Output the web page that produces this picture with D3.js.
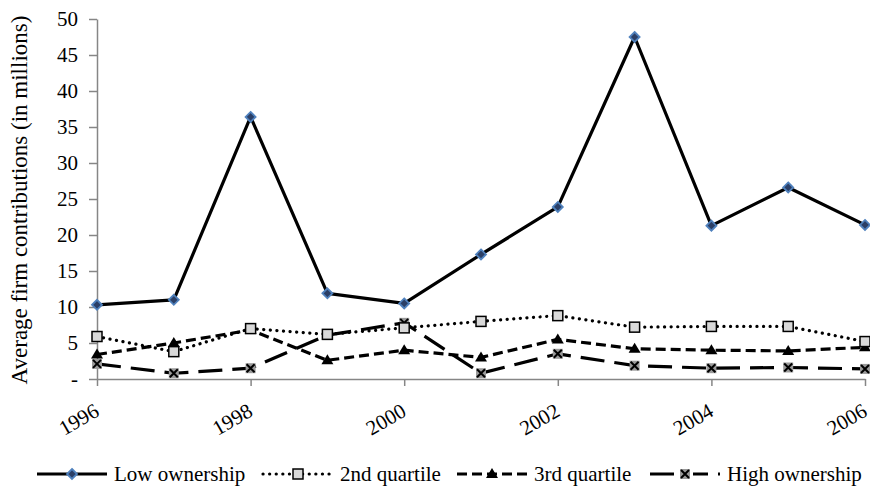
<!DOCTYPE html>
<html><head><meta charset="utf-8">
<script src="https://cdn.jsdelivr.net/npm/d3@7"></script>
<style>body{margin:0;background:#fff} text{font-family:"Liberation Serif","Times New Roman",Times,serif !important}</style>
</head><body>
<svg id="c" width="870" height="488"></svg>
<script>
const years = [1996,1997,1998,1999,2000,2001,2002,2003,2004,2005,2006];
const lowOwnership = [10.3,11.0,36.4,11.9,10.5,17.3,23.9,47.5,21.3,26.6,21.4];
const secondQuartile = [5.9,3.8,7.0,6.2,7.1,8.0,8.8,7.2,7.3,7.3,5.2];
const thirdQuartile = [3.4,5.0,6.8,2.6,4.0,3.0,5.5,4.2,4.0,3.9,4.4];
const highOwnership = [2.1,0.8,1.5,6.1,7.8,0.8,3.5,1.85,1.5,1.6,1.4];
const yTicks = [0,5,10,15,20,25,30,35,40,45,50];
const xTicks = [1996,1998,2000,2002,2004,2006];
const seriesNames = ["Low ownership","2nd quartile","3rd quartile","High ownership"];

const FONT = "'Liberation Serif','Times New Roman',Times,serif";
const svg = d3.select("#c");
const x = d3.scaleLinear().domain([1996,2006]).range([97,865]);
const y = d3.scaleLinear().domain([0,50]).range([379,19]);
const axisCol = "#868686";

// y axis
const yAx = svg.append("g").attr("transform","translate(97,0)")
  .call(d3.axisLeft(y).tickValues(yTicks).tickSize(8).tickSizeOuter(0).tickFormat(d=>d===0?"-":d));
yAx.attr("font-family",null);
yAx.select(".domain").attr("stroke",axisCol).attr("stroke-width",1.5);
yAx.selectAll(".tick line").attr("stroke",axisCol).attr("stroke-width",1.5);
yAx.selectAll("text").attr("font-size",21).attr("fill","#000").attr("x",-19).style("font-family",FONT);

// x axis
const xAx = svg.append("g").attr("transform","translate(0,379)")
  .call(d3.axisBottom(x).tickValues(xTicks).tickSize(7).tickSizeOuter(0).tickFormat(d3.format("d")));
xAx.attr("font-family",null);
xAx.select(".domain").attr("stroke",axisCol).attr("stroke-width",1.5);
xAx.selectAll(".tick line").attr("stroke",axisCol).attr("stroke-width",1.5);
xAx.selectAll("text").attr("font-size",21).attr("fill","#000").style("font-family",FONT)
  .attr("text-anchor","end").attr("y",0).attr("dy",0)
  .attr("transform","translate(3,36) rotate(-30)");

// y label
svg.append("text").attr("transform","translate(27,200) rotate(-90)").style("font-family",FONT)
  .attr("text-anchor","middle").attr("font-size",23).text("Average firm contributions (in millions)");

const styles = [
  {data:lowOwnership, dash:null, cap:"butt", marker:"diamond"},
  {data:secondQuartile, dash:"0.1,6.5", cap:"round", marker:"square"},
  {data:thirdQuartile, dash:"10,5", cap:"butt", marker:"triangle"},
  {data:highOwnership, dash:"24,10", cap:"butt", marker:"x"}
];

function drawMarker(g, type, cx, cy){
  if(type==="diamond"){
    g.append("path").attr("d",`M${cx},${cy-5}L${cx+5},${cy}L${cx},${cy+5}L${cx-5},${cy}Z`)
      .attr("fill","#2b3f66").attr("stroke","#4F81BD").attr("stroke-width",1.8);
  } else if(type==="square"){
    g.append("rect").attr("x",cx-5).attr("y",cy-5).attr("width",10).attr("height",10)
      .attr("fill","#D9D9D9").attr("stroke","#000").attr("stroke-width",1.5);
  } else if(type==="triangle"){
    g.append("path").attr("d",`M${cx},${cy-6}L${cx+6},${cy+4}L${cx-6},${cy+4}Z`).attr("fill","#000");
  } else {
    g.append("rect").attr("x",cx-5).attr("y",cy-5).attr("width",10).attr("height",10).attr("fill","#9a9a9a");
    g.append("path").attr("d",`M${cx-4},${cy-4}L${cx+4},${cy+4}M${cx+4},${cy-4}L${cx-4},${cy+4}`)
      .attr("stroke","#000").attr("stroke-width",2);
  }
}

const line = d3.line().x((d,i)=>x(years[i])).y(d=>y(d));
[3,2,1,0].forEach(k=>{
  const s = styles[k];
  const g = svg.append("g");
  g.append("path").attr("d",line(s.data)).attr("fill","none").attr("stroke","#000")
    .attr("stroke-width",3.2).attr("stroke-dasharray",s.dash).attr("stroke-linecap",s.cap)
    .attr("stroke-linejoin","round");
  s.data.forEach((v,i)=>drawMarker(g,s.marker,x(years[i]),y(v)));
});

// legend
const legX = [37,263,457,650];
const legY = 474;
styles.forEach((s,k)=>{
  const g = svg.append("g");
  g.append("line").attr("x1",legX[k]).attr("x2",legX[k]+70).attr("y1",legY).attr("y2",legY)
    .attr("stroke","#000").attr("stroke-width",3.2).attr("stroke-dasharray",s.dash).attr("stroke-linecap",s.cap);
  if(s.marker==="x"){
    g.append("rect").attr("x",legX[k]+27).attr("y",legY-6).attr("width",16).attr("height",12).attr("fill","#fff");
  }
  drawMarker(g,s.marker,legX[k]+35,legY);
  g.append("text").attr("x",legX[k]+77).attr("y",legY+7).attr("font-size",21).style("font-family",FONT).text(seriesNames[k]);
});
</script>
</body></html>
